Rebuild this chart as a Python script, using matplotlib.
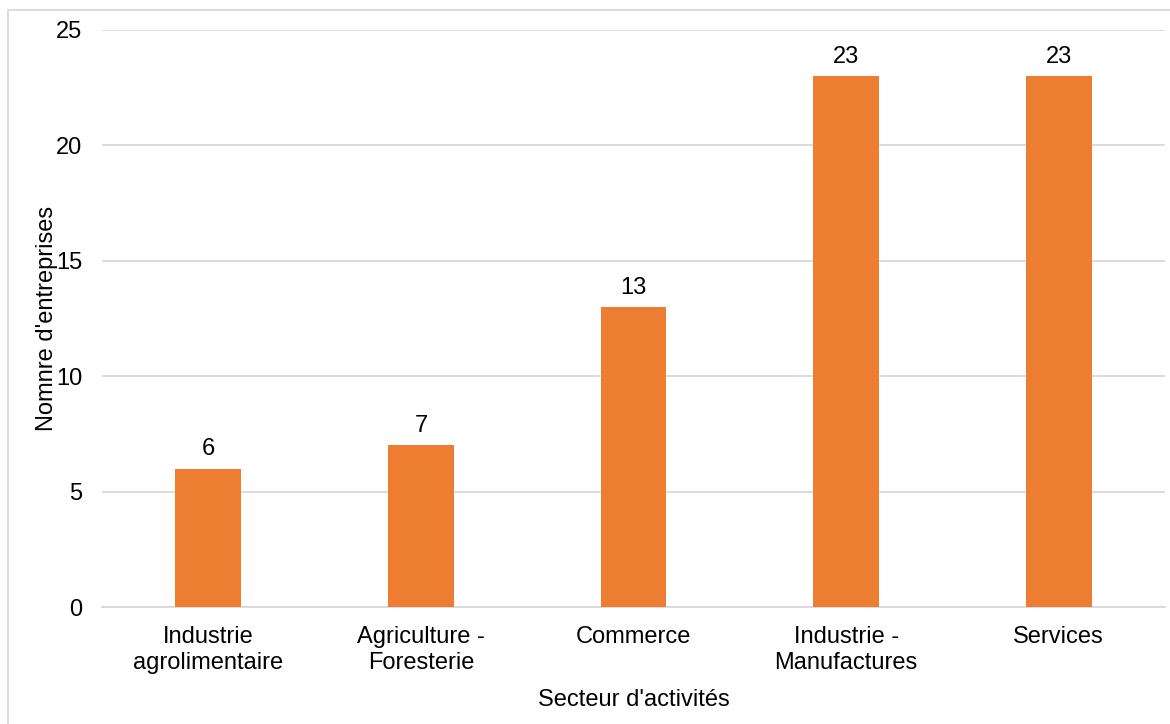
import matplotlib.pyplot as plt
from matplotlib.patches import Rectangle

plt.rcParams['font.family'] = ['Liberation Sans', 'DejaVu Sans']

# Data
secteurs = ['Industrie\nagrolimentaire', 'Agriculture -\nForesterie', 'Commerce',
            'Industrie -\nManufactures', 'Services']
nb_entreprises = [6, 7, 13, 23, 23]
y_ticks = [0, 5, 10, 15, 20, 25]

fs = 17
fig = plt.figure(figsize=(11.7, 7.24), dpi=100)
ax = fig.add_axes([0.0872, 0.1616, 0.9085, 0.797])

grid_color = '#D9D9D9'
bars = ax.bar(range(len(secteurs)), nb_entreprises, width=0.31, color='#ED7D31', zorder=3)
ax.bar_label(bars, labels=[str(v) for v in nb_entreprises], padding=6, fontsize=fs)

ax.set_xlim(-0.5, len(secteurs) - 0.5)
ax.set_ylim(0, 25)
ax.set_yticks(y_ticks)
ax.set_xticks(range(len(secteurs)))
ax.set_xticklabels(secteurs, fontsize=fs, linespacing=1.2)
ax.tick_params(axis='y', labelsize=fs, length=0, pad=14)
ax.tick_params(axis='x', length=0, pad=14)
ax.yaxis.grid(True, color=grid_color, linewidth=1.3, zorder=0)

for side in ['top', 'right', 'left']:
    ax.spines[side].set_visible(False)
ax.spines['bottom'].set_color(grid_color)
ax.spines['bottom'].set_linewidth(1.3)

ax.set_ylabel("Nomnre d'entreprises", fontsize=fs, labelpad=-1)
ax.set_xlabel("Secteur d'activités", fontsize=fs, labelpad=11)

# Light frame around the chart (only left and top edges fall inside the image)
fig.patches.append(Rectangle((8 / 1170, -10 / 724), 1180 / 1170, 724 / 724,
                             transform=fig.transFigure, fill=False,
                             edgecolor=grid_color, linewidth=1.3))

plt.savefig('out.png', dpi=100)
